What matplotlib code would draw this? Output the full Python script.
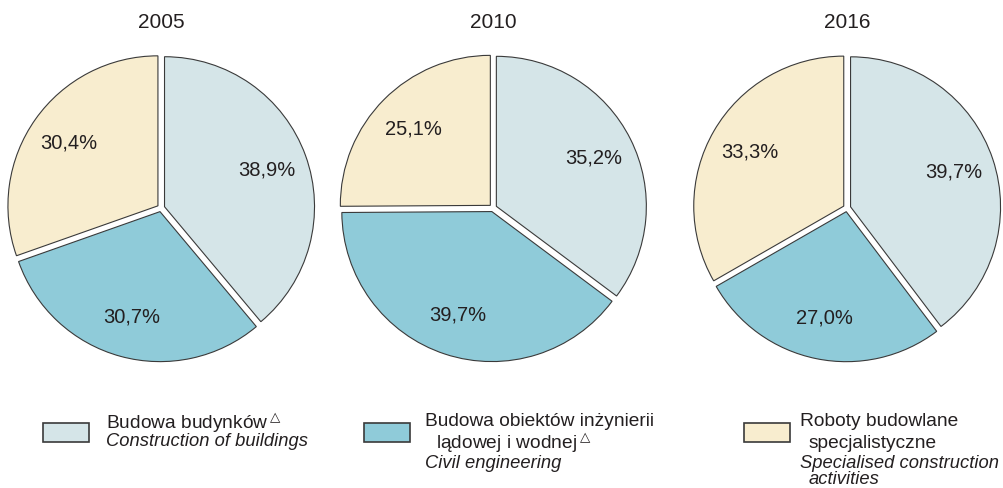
import numpy as np
import matplotlib.pyplot as plt

plt.rcParams['font.family'] = ['Liberation Sans', 'DejaVu Sans']
plt.rcParams['mathtext.fontset'] = 'dejavusans'

# Dane
lata = ['2005', '2010', '2016']
budynki = [38.9, 35.2, 39.7]
inzynieria = [30.7, 39.7, 27.0]
specjalistyczne = [30.4, 25.1, 33.3]
kolory = ['#d5e5e8', '#8fcbd9', '#f8edcf']
tekst_kolor = '#231f20'

W, H = 1004, 488
fig = plt.figure(figsize=(W / 100, H / 100), dpi=100)

def px(x, y):
    return x / W, 1 - y / H

srodki = [(161, 208), (493, 208), (847, 208)]
R = 150
pol = 160

for i, rok in enumerate(lata):
    cx, cy = srodki[i]
    ax = fig.add_axes([(cx - pol) / W, 1 - (cy + pol) / H, 2 * pol / W, 2 * pol / H])
    wart = [budynki[i], inzynieria[i], specjalistyczne[i]]
    wedges, _ = ax.pie(wart, colors=kolory, startangle=90, counterclock=False,
                       explode=[0.025] * 3, radius=1.0,
                       wedgeprops=dict(edgecolor='#3a3a3a', linewidth=0.8))
    for w, v in zip(wedges, wart):
        ang = np.deg2rad((w.theta1 + w.theta2) / 2)
        d = 0.75
        ax.text(d * np.cos(ang), d * np.sin(ang), f'{v:.1f}%'.replace('.', ','),
                ha='center', va='center', fontsize=14.5, color=tekst_kolor)
    ax.set_xlim(-pol / R, pol / R)
    ax.set_ylim(-pol / R, pol / R)
    ax.set_aspect('equal')
    ax.axis('off')
    fig.text(*px(cx, 22), rok, ha='center', va='center', fontsize=15, color=tekst_kolor)

# Legenda
def pudelko(x0, kolor):
    lax = fig.add_axes([x0 / W, 1 - 442 / H, 46 / W, 19 / H])
    lax.add_patch(plt.Rectangle((0, 0), 1, 1, facecolor=kolor, edgecolor='#3a3a3a',
                                linewidth=1.2, transform=lax.transAxes, clip_on=False))
    lax.axis('off')

fs = 13.8
fs_it = 13.2
delta = '$^{\\triangle}$'
pudelko(43, kolory[0])
fig.text(*px(106, 423), 'Budowa budynków' + delta, fontsize=fs, va='center', color=tekst_kolor)
fig.text(*px(106, 442), 'Construction of buildings', fontsize=fs_it, va='center', style='italic', color=tekst_kolor)

pudelko(364, kolory[1])
fig.text(*px(425, 422), 'Budowa obiektów inżynierii', fontsize=fs, va='center', color=tekst_kolor)
fig.text(*px(436, 443), 'lądowej i wodnej' + delta, fontsize=fs, va='center', color=tekst_kolor)
fig.text(*px(425, 463), 'Civil engineering', fontsize=fs_it, va='center', style='italic', color=tekst_kolor)

pudelko(744, kolory[2])
fig.text(*px(800, 422), 'Roboty budowlane', fontsize=fs, va='center', color=tekst_kolor)
fig.text(*px(809, 443), 'specjalistyczne', fontsize=fs, va='center', color=tekst_kolor)
fig.text(*px(800, 463), 'Specialised construction', fontsize=fs_it, va='center', style='italic', color=tekst_kolor)
fig.text(*px(809, 480), 'activities', fontsize=fs_it, va='center', style='italic', color=tekst_kolor)

fig.savefig('out.png', dpi=100)
